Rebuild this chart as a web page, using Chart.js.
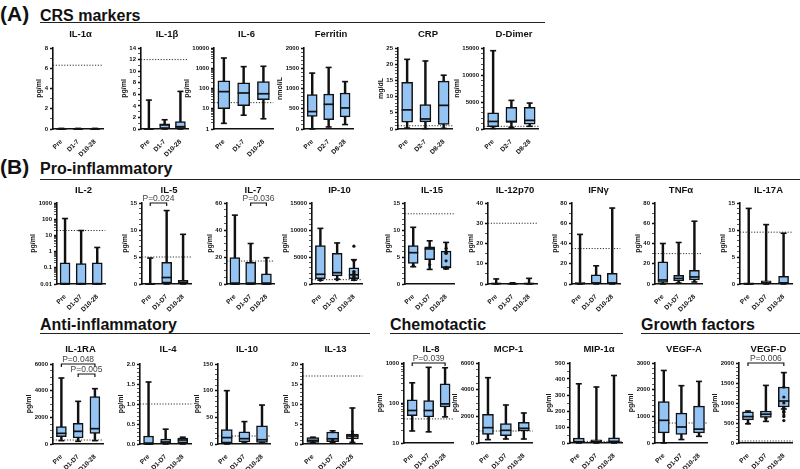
<!DOCTYPE html>
<html>
<head>
<meta charset="utf-8">
<script src="https://cdn.jsdelivr.net/npm/chart.js@4.4.0/dist/chart.umd.min.js"></script>
<style>
  body { margin: 0; background: #fff; }
  #fig { position: relative; width: 800px; height: 469px; overflow: hidden; font-family: "Liberation Sans", Arial, sans-serif; color: #111; }
  .tag { position: absolute; font-weight: bold; font-size: 21px; line-height: 1; }
  .sec { position: absolute; font-weight: bold; font-size: 16px; line-height: 1; white-space: nowrap; }
  .rule { position: absolute; height: 0; border-top: 1.6px solid #222; }
  .ttl { position: absolute; font-weight: bold; font-size: 9.5px; line-height: 1; transform: translateX(-50%); white-space: nowrap; }
  canvas { position: absolute; }
</style>
</head>
<body>
<div id="fig">
  <div class="tag" style="left:0px;top:3px">(A)</div>
  <div class="sec" style="left:40px;top:8px">CRS markers</div>
  <div class="rule" style="left:40px;top:22px;width:505px"></div>

  <div class="tag" style="left:0px;top:156px">(B)</div>
  <div class="sec" style="left:40px;top:161px">Pro-inflammatory</div>
  <div class="rule" style="left:40px;top:179px;width:760px"></div>

  <div class="sec" style="left:40px;top:317px">Anti-inflammatory</div>
  <div class="rule" style="left:40px;top:333px;width:330px"></div>
  <div class="sec" style="left:390px;top:317px">Chemotactic</div>
  <div class="rule" style="left:390px;top:333px;width:233px"></div>
  <div class="sec" style="left:641px;top:317px">Growth factors</div>
  <div class="rule" style="left:641px;top:333px;width:159px"></div>
</div>
<script>
// groups
const grpA = ["Pre", "D1-7", "D10-28"];
const grpA2 = ["Pre", "D2-7", "D8-28"];
const grpB = ["Pre", "D1-D7", "D10-28"];

// box stats per group: [min, q1, median, q3, max]
const il1aBox = [[0, 0, 0, 0.06, 0.06], [0, 0, 0, 0.06, 0.06], [0, 0, 0, 0.06, 0.06]];
const il1bBox = [[0, 0, 0, 0.1, 5], [0, 0.1, 0.7, 0.9, 1.6], [0, 0.1, 0.4, 1.3, 6.5]];
const il6Box = [[1.9, 10, 70, 240, 3200], [4.8, 14, 60, 190, 1200], [3.2, 28, 55, 220, 1250]];
const ferritinBox = [[0, 310, 430, 850, 1380], [50, 230, 610, 860, 1520], [110, 300, 520, 890, 1170]];
const crpBox = [[0.3, 2.1, 5.9, 14.4, 21.5], [0.1, 2.2, 3.1, 7.5, 21], [0.2, 1.4, 7.3, 14.8, 16.6]];
const ddimerBox = [[100, 450, 1400, 3000, 14500], [300, 1200, 1400, 4000, 5300], [500, 900, 1600, 4000, 4800]];

const il2Box = [[0.01, 0.01, 0.01, 0.2, 110], [0.01, 0.01, 0.01, 0.18, 20], [0.01, 0.01, 0.01, 0.2, 1.8]];
const il5Box = [[0, 0, 0, 0.15, 4.8], [0, 0.2, 1.2, 4, 13.6], [0, 0, 0.3, 0.7, 9.2]];
const il7Box = [[0, 0, 0, 19.5, 51], [0, 0, 0, 16, 30], [0, 0, 0, 7.5, 19.5]];
const ip10Box = [[700, 1000, 1800, 7100, 10300], [900, 1500, 2100, 5700, 7600], [700, 1000, 1700, 3000, 4500]];
const il15Box = [[3.2, 3.8, 5.8, 7.1, 10.5], [2.7, 4.5, 6.5, 6.9, 8], [2.8, 3, 3.1, 6.1, 7.7]];
const il12Box = [[0, 0, 0.2, 0.5, 2.5], [0, 0, 0.1, 0.3, 0.6], [0, 0, 0.2, 0.5, 2.8]];
const ifngBox = [[0, 0.2, 0.5, 1.5, 49], [0, 0.3, 1, 9, 18], [0, 0.3, 1, 10.5, 75]];
const tnfaBox = [[0, 1.5, 4, 22, 40], [1, 3, 5.5, 8.5, 41], [2, 4, 7, 13.5, 62]];
const il17aBox = [[0, 0, 0, 0.2, 14], [0, 0, 0.2, 0.6, 11], [0, 0, 0.2, 1.4, 9.4]];

const il1raBox = [[250, 550, 800, 1300, 4950], [200, 450, 950, 1550, 3200], [250, 800, 1150, 3550, 4150]];
const il4Box = [[0, 0, 0, 0.2, 1.55], [0, 0.01, 0.05, 0.12, 0.37], [0, 0.03, 0.1, 0.15, 0.17]];
const il10Box = [[0, 2, 12, 27, 100], [2, 4, 10, 23, 42], [2, 3, 8, 34, 73]];
const il13Box = [[0.3, 0.4, 0.9, 1.6, 1.7], [0.3, 0.6, 1.3, 3, 3.3], [0.4, 1.3, 2, 2.5, 9]];
const il8Box = [[20, 48, 65, 120, 320], [19, 45, 65, 115, 780], [45, 80, 95, 300, 760]];
const mcp1Box = [[250, 650, 1150, 2150, 4900], [300, 550, 950, 1450, 2850], [300, 900, 1100, 1550, 2250]];
const mip1aBox = [[0, 3, 8, 30, 370], [0, 3, 8, 20, 350], [0, 3, 10, 33, 422]];
const vegfaBox = [[0, 380, 850, 1550, 2720], [130, 320, 600, 1120, 2150], [250, 380, 520, 1380, 2310]];
const vegfdBox = [[480, 580, 660, 780, 800], [540, 640, 720, 800, 1440], [850, 900, 1050, 1400, 1760]];

// individual points shown on some panels
const ip10Dots = [[700, 800, 1900, 7000], [1000, 1400, 2200, 4300], [800, 1200, 1800, 2300, 4400]];
const il15Dots = [[3.4, 3.6, 5.9], [4.3, 5.7, 6.6], [2.9, 3.0, 3.1, 5.7]];
const il13Dots = [[0.5, 1.0, 1.4], [0.5, 0.8, 2.0, 3.1], [0.6, 1.5, 2.1, 2.5]];
const vegfdDots = [[500, 620, 660, 780], [560, 700, 760, 800], [860, 880, 1000, 1150, 1400]];

// dotted reference levels
const refRowA = [6.3, 12, 20, null, 1, 500];
const refRowB = [20, 5, 17, 800, 13, 30, 35, 30, 9.6];
const refRowC = [300, 1.0, 15, 17, 40, 900, 10, 750, 50];

// y ticks
const ticksIl1a = [0, 2, 4, 6, 8];
const ticksIl1b = [0, 2, 4, 6, 8, 10, 12, 14];
const ticksIl6 = [1, 10, 100, 1000, 10000];
const ticksFerritin = [0, 500, 1000, 1500, 2000];
const ticksCrp = [0, 5, 10, 15, 20, 25];
const ticksDdimer = [0, 5000, 10000, 15000];
const ticksIl2 = [0.01, 0.1, 1, 10, 100, 1000];
const ticks15 = [0, 5, 10, 15];
const ticksIl7 = [0, 20, 40, 60];
const ticksIp10 = [0, 5000, 10000, 15000];
const ticksIl12 = [0, 10, 20, 30, 40];
const ticks80 = [0, 20, 40, 60, 80];
const ticks6000 = [0, 2000, 4000, 6000];
const ticksIl4 = [0, 0.5, 1, 1.5, 2];
const labelsIl4 = ["0.0", "0.5", "1.0", "1.5", "2.0"];
const ticksIl10 = [0, 50, 100, 150];
const ticksIl13 = [0, 5, 10, 15, 20];
const ticksIl8 = [10, 100, 1000];
const ticksMip = [0, 100, 200, 300, 400, 500];
const ticksVegfa = [0, 1000, 2000, 3000];
const ticksVegfd = [0, 500, 1000, 1500, 2000];

// significance brackets
const pIl5 = [{ from: 0, to: 1, at: 15, text: "P=0.024" }];
const pIl7 = [{ from: 1, to: 2, at: 60, text: "P=0.036" }];
const pIl1ra = [{ from: 0, to: 2, at: 6000, text: "P=0.048" }, { from: 1, to: 2, at: 5250, text: "P=0.005" }];
const pIl8 = [{ from: 0, to: 2, at: 1000, text: "P=0.039" }];
const pVegfd = [{ from: 0, to: 2, at: 2000, text: "P=0.006" }];

const panels = [
  { title: "IL-1α", box: il1aBox, groups: grpA, ticks: ticksIl1a, ref: refRowA[0], unit: "pg/ml", x0: 53, x1: 108, y0: 48, y1: 129, ty: 29, sub: 2 },
  { title: "IL-1β", box: il1bBox, groups: grpA, ticks: ticksIl1b, ref: refRowA[1], unit: "pg/ml", x0: 141, x1: 193, y0: 48, y1: 129, ty: 29, sub: 2 },
  { title: "IL-6", box: il6Box, groups: grpA, ticks: ticksIl6, ref: refRowA[2], unit: "pg/ml", log: true, x0: 214, x1: 279, y0: 48, y1: 129, ty: 29 },
  { title: "Ferritin", box: ferritinBox, groups: grpA2, ticks: ticksFerritin, ref: refRowA[3], unit: "nmol/L", x0: 304, x1: 358, y0: 48, y1: 129, ty: 29, sub: 5 },
  { title: "CRP", box: crpBox, groups: grpA2, ticks: ticksCrp, ref: refRowA[4], unit: "mg/dL", x0: 398, x1: 458, y0: 48, y1: 129, ty: 29, sub: 5 },
  { title: "D-Dimer", box: ddimerBox, groups: grpA2, ticks: ticksDdimer, ref: refRowA[5], unit: "ng/ml", x0: 484, x1: 544, y0: 48, y1: 129, ty: 29, sub: 5 },

  { title: "IL-2", box: il2Box, groups: grpB, ticks: ticksIl2, ref: refRowB[0], unit: "pg/ml", log: true, x0: 57, x1: 110, y0: 203, y1: 284, ty: 185 },
  { title: "IL-5", box: il5Box, groups: grpB, ticks: ticks15, ref: refRowB[1], unit: "pg/ml", x0: 142, x1: 196, y0: 203, y1: 284, ty: 185, sub: 5, pvals: pIl5 },
  { title: "IL-7", box: il7Box, groups: grpB, ticks: ticksIl7, ref: refRowB[2], unit: "pg/ml", x0: 227, x1: 279, y0: 203, y1: 284, ty: 185, sub: 4, pvals: pIl7 },
  { title: "IP-10", box: ip10Box, groups: grpB, ticks: ticksIp10, ref: refRowB[3], unit: "pg/ml", x0: 312, x1: 367, y0: 203, y1: 284, ty: 185, sub: 5, dots: ip10Dots },
  { title: "IL-15", box: il15Box, groups: grpB, ticks: ticks15, ref: refRowB[4], unit: "pg/ml", x0: 405, x1: 459, y0: 203, y1: 284, ty: 185, sub: 5, dots: il15Dots },
  { title: "IL-12p70", box: il12Box, groups: grpB, ticks: ticksIl12, ref: refRowB[5], unit: "pg/ml", x0: 488, x1: 542, y0: 203, y1: 284, ty: 185, sub: 2 },
  { title: "IFNγ", box: ifngBox, groups: grpB, ticks: ticks80, ref: refRowB[6], unit: "pg/ml", x0: 572, x1: 625, y0: 203, y1: 284, ty: 185, sub: 2 },
  { title: "TNFα", box: tnfaBox, groups: grpB, ticks: ticks80, ref: refRowB[7], unit: "pg/ml", x0: 655, x1: 707, y0: 203, y1: 284, ty: 185, sub: 2 },
  { title: "IL-17A", box: il17aBox, groups: grpB, ticks: ticks15, ref: refRowB[8], unit: "pg/ml", x0: 740, x1: 797, y0: 203, y1: 284, ty: 185, sub: 5 },

  { title: "IL-1RA", box: il1raBox, groups: grpB, ticks: ticks6000, ref: refRowC[0], unit: "pg/ml", x0: 53, x1: 108, y0: 364, y1: 444, ty: 344, sub: 4, pvals: pIl1ra },
  { title: "IL-4", box: il4Box, groups: grpB, ticks: ticksIl4, labels: labelsIl4, ref: refRowC[1], unit: "pg/ml", x0: 140, x1: 196, y0: 364, y1: 444, ty: 344, sub: 5 },
  { title: "IL-10", box: il10Box, groups: grpB, ticks: ticksIl10, ref: refRowC[2], unit: "pg/ml", x0: 218, x1: 276, y0: 364, y1: 444, ty: 344, sub: 5 },
  { title: "IL-13", box: il13Box, groups: grpB, ticks: ticksIl13, ref: refRowC[3], unit: "pg/ml", x0: 303, x1: 368, y0: 364, y1: 444, ty: 344, sub: 5, dots: il13Dots },
  { title: "IL-8", box: il8Box, groups: grpB, ticks: ticksIl8, ref: refRowC[4], unit: "pg/ml", log: true, x0: 404, x1: 458, y0: 363, y1: 443, ty: 344, pvals: pIl8 },
  { title: "MCP-1", box: mcp1Box, groups: grpB, ticks: ticks6000, ref: refRowC[5], unit: "pg/ml", x0: 479, x1: 538, y0: 363, y1: 443, ty: 344, sub: 4 },
  { title: "MIP-1α", box: mip1aBox, groups: grpB, ticks: ticksMip, ref: refRowC[6], unit: "pg/ml", x0: 570, x1: 628, y0: 363, y1: 443, ty: 344, sub: 2 },
  { title: "VEGF-A", box: vegfaBox, groups: grpB, ticks: ticksVegfa, ref: refRowC[7], unit: "pg/ml", x0: 655, x1: 713, y0: 363, y1: 443, ty: 344, sub: 5 },
  { title: "VEGF-D", box: vegfdBox, groups: grpB, ticks: ticksVegfd, ref: refRowC[8], unit: "pg/ml", x0: 739, x1: 798, y0: 363, y1: 443, ty: 344, sub: 5, dots: vegfdDots, pvals: pVegfd },
];

const FONT = '"Liberation Sans", Arial, sans-serif';
Chart.defaults.font.family = FONT;
Chart.defaults.color = "#111";
Chart.defaults.animation = false;

const INK = "#111";
const BOX_FILL = "#94c4f4";

// dotted reference line + P-value brackets
const boxExtras = {
  id: "boxExtras",
  beforeDatasetsDraw(chart, args, opts) {
    if (opts.ref == null) return;
    const { ctx, chartArea: a } = chart;
    const y = chart.scales.y.getPixelForValue(opts.ref);
    ctx.save();
    ctx.strokeStyle = "#333";
    ctx.lineWidth = 1;
    ctx.setLineDash([1.2, 1.6]);
    ctx.beginPath();
    ctx.moveTo(a.left, y);
    ctx.lineTo(a.right, y);
    ctx.stroke();
    ctx.restore();
  },
  afterDraw(chart, args, opts) {
    const { ctx } = chart;
    const xs = chart.scales.x, ys = chart.scales.y;
    (opts.pvals || []).forEach((p) => {
      const xa = xs.getPixelForValue(p.from), xb = xs.getPixelForValue(p.to);
      const y = ys.getPixelForValue(p.at);
      ctx.save();
      ctx.strokeStyle = INK;
      ctx.lineWidth = 1.2;
      ctx.beginPath();
      ctx.moveTo(xa, y + 3);
      ctx.lineTo(xa, y);
      ctx.lineTo(xb, y);
      ctx.lineTo(xb, y + 3);
      ctx.stroke();
      ctx.fillStyle = "#444";
      ctx.font = "8.5px " + FONT;
      ctx.textAlign = "center";
      ctx.textBaseline = "bottom";
      ctx.fillText(p.text, (xa + xb) / 2, y - 0.5);
      ctx.restore();
    });
  },
};

function tickList(p) {
  const major = p.ticks;
  const all = [];
  for (let i = 0; i < major.length; i++) {
    all.push({ value: major[i], major: true });
    if (i === major.length - 1) break;
    if (p.log) {
      for (let k = 2; k < 10; k++) all.push({ value: major[i] * k, major: false });
    } else if (p.sub) {
      const step = (major[i + 1] - major[i]) / p.sub;
      for (let k = 1; k < p.sub; k++) all.push({ value: major[i] + step * k, major: false });
    }
  }
  return all;
}

const fig = document.getElementById("fig");
const measure = document.createElement("canvas").getContext("2d");
measure.font = "bold 6px " + FONT;

function labelFor(p, v) {
  const j = p.ticks.indexOf(v);
  return p.labels ? p.labels[j] : String(v);
}

function makePanel(p) {
  const T = 16, B = 30;
  const widest = Math.max(...p.ticks.map((v) => measure.measureText(labelFor(p, v)).width));
  const L = Math.ceil(widest) + 14;
  const w = p.x1 - p.x0, h = p.y1 - p.y0;
  const cv = document.createElement("canvas");
  cv.width = L + w + 2;
  cv.height = T + h + B;
  cv.style.left = (p.x0 - L) + "px";
  cv.style.top = (p.y0 - T) + "px";
  fig.appendChild(cv);

  const t = document.createElement("div");
  t.className = "ttl";
  t.textContent = p.title;
  t.style.left = (p.x0 + w / 2) + "px";
  t.style.top = p.ty + "px";
  fig.appendChild(t);

  const boxW = Math.round((w / 3) * 0.55);
  const s = p.box;
  const ticks = tickList(p);
  const datasets = [
    { type: "line", data: s.map((v) => v[2]), showLine: false, pointStyle: "line", pointRadius: boxW / 2, pointBorderWidth: 1.7, pointBorderColor: INK, order: 0, clip: false },
    { type: "line", data: s.map((v) => v[4]), showLine: false, pointStyle: "line", pointRadius: 3, pointBorderWidth: 1.6, pointBorderColor: INK, order: 0, clip: false },
    { type: "line", data: s.map((v) => v[0]), showLine: false, pointStyle: "line", pointRadius: 3, pointBorderWidth: 1.6, pointBorderColor: INK, order: 0, clip: false },
    { type: "bar", data: s.map((v) => [v[1], v[3]]), backgroundColor: BOX_FILL, borderColor: INK, borderWidth: 1.5, borderSkipped: false, barThickness: boxW, grouped: false, order: 1, clip: false },
    { type: "bar", data: s.map((v) => [v[0], v[4]]), backgroundColor: INK, barThickness: 1.8, grouped: false, order: 2, clip: false },
  ];
  if (p.dots) {
    const pts = [];
    p.dots.forEach((arr, i) => arr.forEach((v) => pts.push({ x: i, y: v })));
    datasets.unshift({ type: "line", data: pts, showLine: false, pointStyle: "circle", pointRadius: 1.6, pointBackgroundColor: INK, pointBorderWidth: 0, order: 0, clip: false });
  }

  new Chart(cv, {
    type: "bar",
    data: { labels: p.groups, datasets: datasets },
    options: {
      responsive: false,
      maintainAspectRatio: false,
      devicePixelRatio: 1,
      layout: { padding: { top: T, left: 0, right: 2, bottom: 0 } },
      plugins: {
        legend: { display: false },
        tooltip: { enabled: false },
        boxExtras: { ref: p.ref, pvals: p.pvals },
      },
      scales: {
        x: {
          type: "category",
          offset: true,
          afterFit: (sc) => { sc.height = B; },
          grid: { display: false },
          border: { color: INK, width: 1.6 },
          ticks: { minRotation: 45, maxRotation: 45, autoSkip: false, padding: 1, color: INK, font: { size: 6.5, weight: "bold" } },
        },
        y: {
          type: p.log ? "logarithmic" : "linear",
          min: p.ticks[0],
          max: p.ticks[p.ticks.length - 1],
          afterBuildTicks: (sc) => { sc.ticks = ticks.map((tk) => ({ value: tk.value })); },
          afterFit: (sc) => { sc.width = L; },
          grid: {
            drawOnChartArea: false,
            drawTicks: true,
            tickLength: 3,
            color: INK,
            tickWidth: (ctx) => (ctx.index != null && ticks[ctx.index] && ticks[ctx.index].major ? 1.3 : 0.7),
          },
          border: { color: INK, width: 1.6 },
          ticks: {
            autoSkip: false,
            padding: 2,
            color: INK,
            font: { size: 6, weight: "bold" },
            callback: (v, i) => {
              const tk = ticks[i];
              if (!tk || !tk.major) return "";
              return labelFor(p, tk.value);
            },
          },
          title: { display: true, text: p.unit, padding: 0, color: INK, font: { size: 7, weight: "bold" } },
        },
      },
    },
    plugins: [boxExtras],
  });
}

panels.forEach(makePanel);
</script>
</body>
</html>
